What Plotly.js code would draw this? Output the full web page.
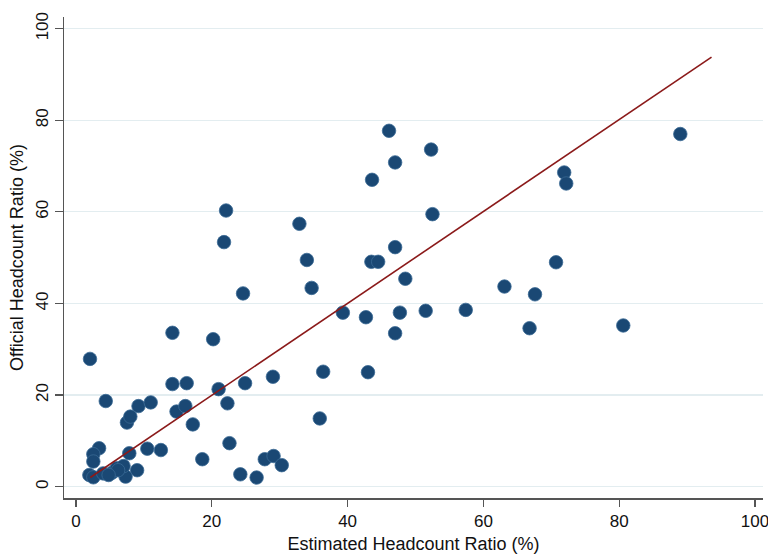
<!DOCTYPE html>
<html>
<head>
<meta charset="utf-8">
<script src="https://cdn.plot.ly/plotly-3.0.1.min.js"></script>
<style>html,body{margin:0;padding:0;background:#fff;overflow:hidden;}#chart{width:768px;height:554px;}</style>
</head>
<body>
<div id="chart"></div>
<script>
const estimatedHCR = [2.06, 4.38, 14.2, 20.2, 22.1, 21.8, 24.6, 32.9, 34.0, 34.7, 39.3, 42.7, 36.4, 43.0, 35.9,
  46.1, 52.3, 47.0, 43.6, 52.5, 47.0, 43.5, 44.5, 48.5, 47.7, 51.5, 57.4, 47.0, 63.1, 67.6, 66.8, 70.7, 71.9, 72.2,
  80.6, 89.0, 14.2, 16.3, 21.0, 24.9, 29.0, 22.3, 9.2, 11.0, 7.5, 8.0, 14.8, 16.1, 17.2, 22.6, 3.4, 2.55, 2.55,
  7.85, 10.5, 12.5, 18.6, 27.8, 29.1, 30.3, 24.2, 26.6, 9.0, 7.3, 1.96, 2.55, 4.0, 5.3, 6.0, 7.0, 6.2, 4.8];
const officialHCR = [27.9, 18.7, 33.6, 32.2, 60.3, 53.4, 42.2, 57.4, 49.5, 43.4, 38.0, 37.0, 25.1, 25.0, 14.9,
  77.7, 73.6, 70.8, 67.0, 59.5, 52.3, 49.1, 49.1, 45.4, 38.0, 38.4, 38.6, 33.5, 43.7, 42.0, 34.6, 49.0, 68.6, 66.2,
  35.2, 77.0, 22.4, 22.6, 21.3, 22.6, 24.0, 18.2, 17.6, 18.4, 14.0, 15.3, 16.4, 17.6, 13.6, 9.5, 8.4, 7.1, 5.5,
  7.3, 8.3, 8.0, 6.0, 6.0, 6.7, 4.7, 2.7, 2.0, 3.6, 2.2, 2.55, 2.05, 2.9, 3.05, 4.0, 4.5, 3.6, 2.55];
const lineX = [2.1, 93.6];
const lineY = [2.0, 93.8];
const tickVals = [0, 20, 40, 60, 80, 100];
const xTitle = 'Estimated Headcount Ratio (%)';
const yTitle = 'Official Headcount Ratio (%)';

const font = 'Liberation Sans, Arial, sans-serif';
const traces = [
  {
    x: estimatedHCR, y: officialHCR, type: 'scatter', mode: 'markers',
    marker: {size: 13.5, color: '#1a4874', line: {width: 0.8, color: '#3a6a94'}},
    hoverinfo: 'x+y'
  },
  {
    x: lineX, y: lineY, type: 'scatter', mode: 'lines',
    line: {color: '#8b1a1a', width: 1.6}, hoverinfo: 'skip'
  }
];
const layout = {
  width: 768, height: 554,
  margin: {l: 64, r: 5, t: 17, b: 56},
  paper_bgcolor: '#ffffff', plot_bgcolor: '#ffffff',
  showlegend: false,
  font: {family: font, size: 17, color: '#111'},
  xaxis: {
    range: [-1.77, 101.18], tickvals: tickVals, ticktext: tickVals.map(String),
    showgrid: false, zeroline: false, showline: true, linecolor: '#555', linewidth: 1.5,
    ticks: 'outside', ticklen: 7, tickwidth: 1.2, tickcolor: '#555',
    ticklabeloverflow: 'allow',
    tickfont: {family: font, size: 17, color: '#111'},
    title: {text: xTitle, font: {family: font, size: 18, color: '#111'}, standoff: 7}
  },
  yaxis: {
    range: [-2.47, 102.55], tickvals: tickVals, ticktext: tickVals.map(String),
    showgrid: true, gridcolor: '#e3edf0', gridwidth: 1.2,
    zeroline: false, showline: true, linecolor: '#555', linewidth: 1.5,
    ticks: 'outside', ticklen: 8, tickwidth: 1.2, tickcolor: '#555', tickangle: -90,
    ticklabeloverflow: 'allow',
    tickfont: {family: font, size: 17, color: '#111'},
    title: {text: yTitle, font: {family: font, size: 18, color: '#111'}, standoff: 4}
  }
};
Plotly.newPlot('chart', traces, layout, {displayModeBar: false, staticPlot: true});
</script>
</body>
</html>
